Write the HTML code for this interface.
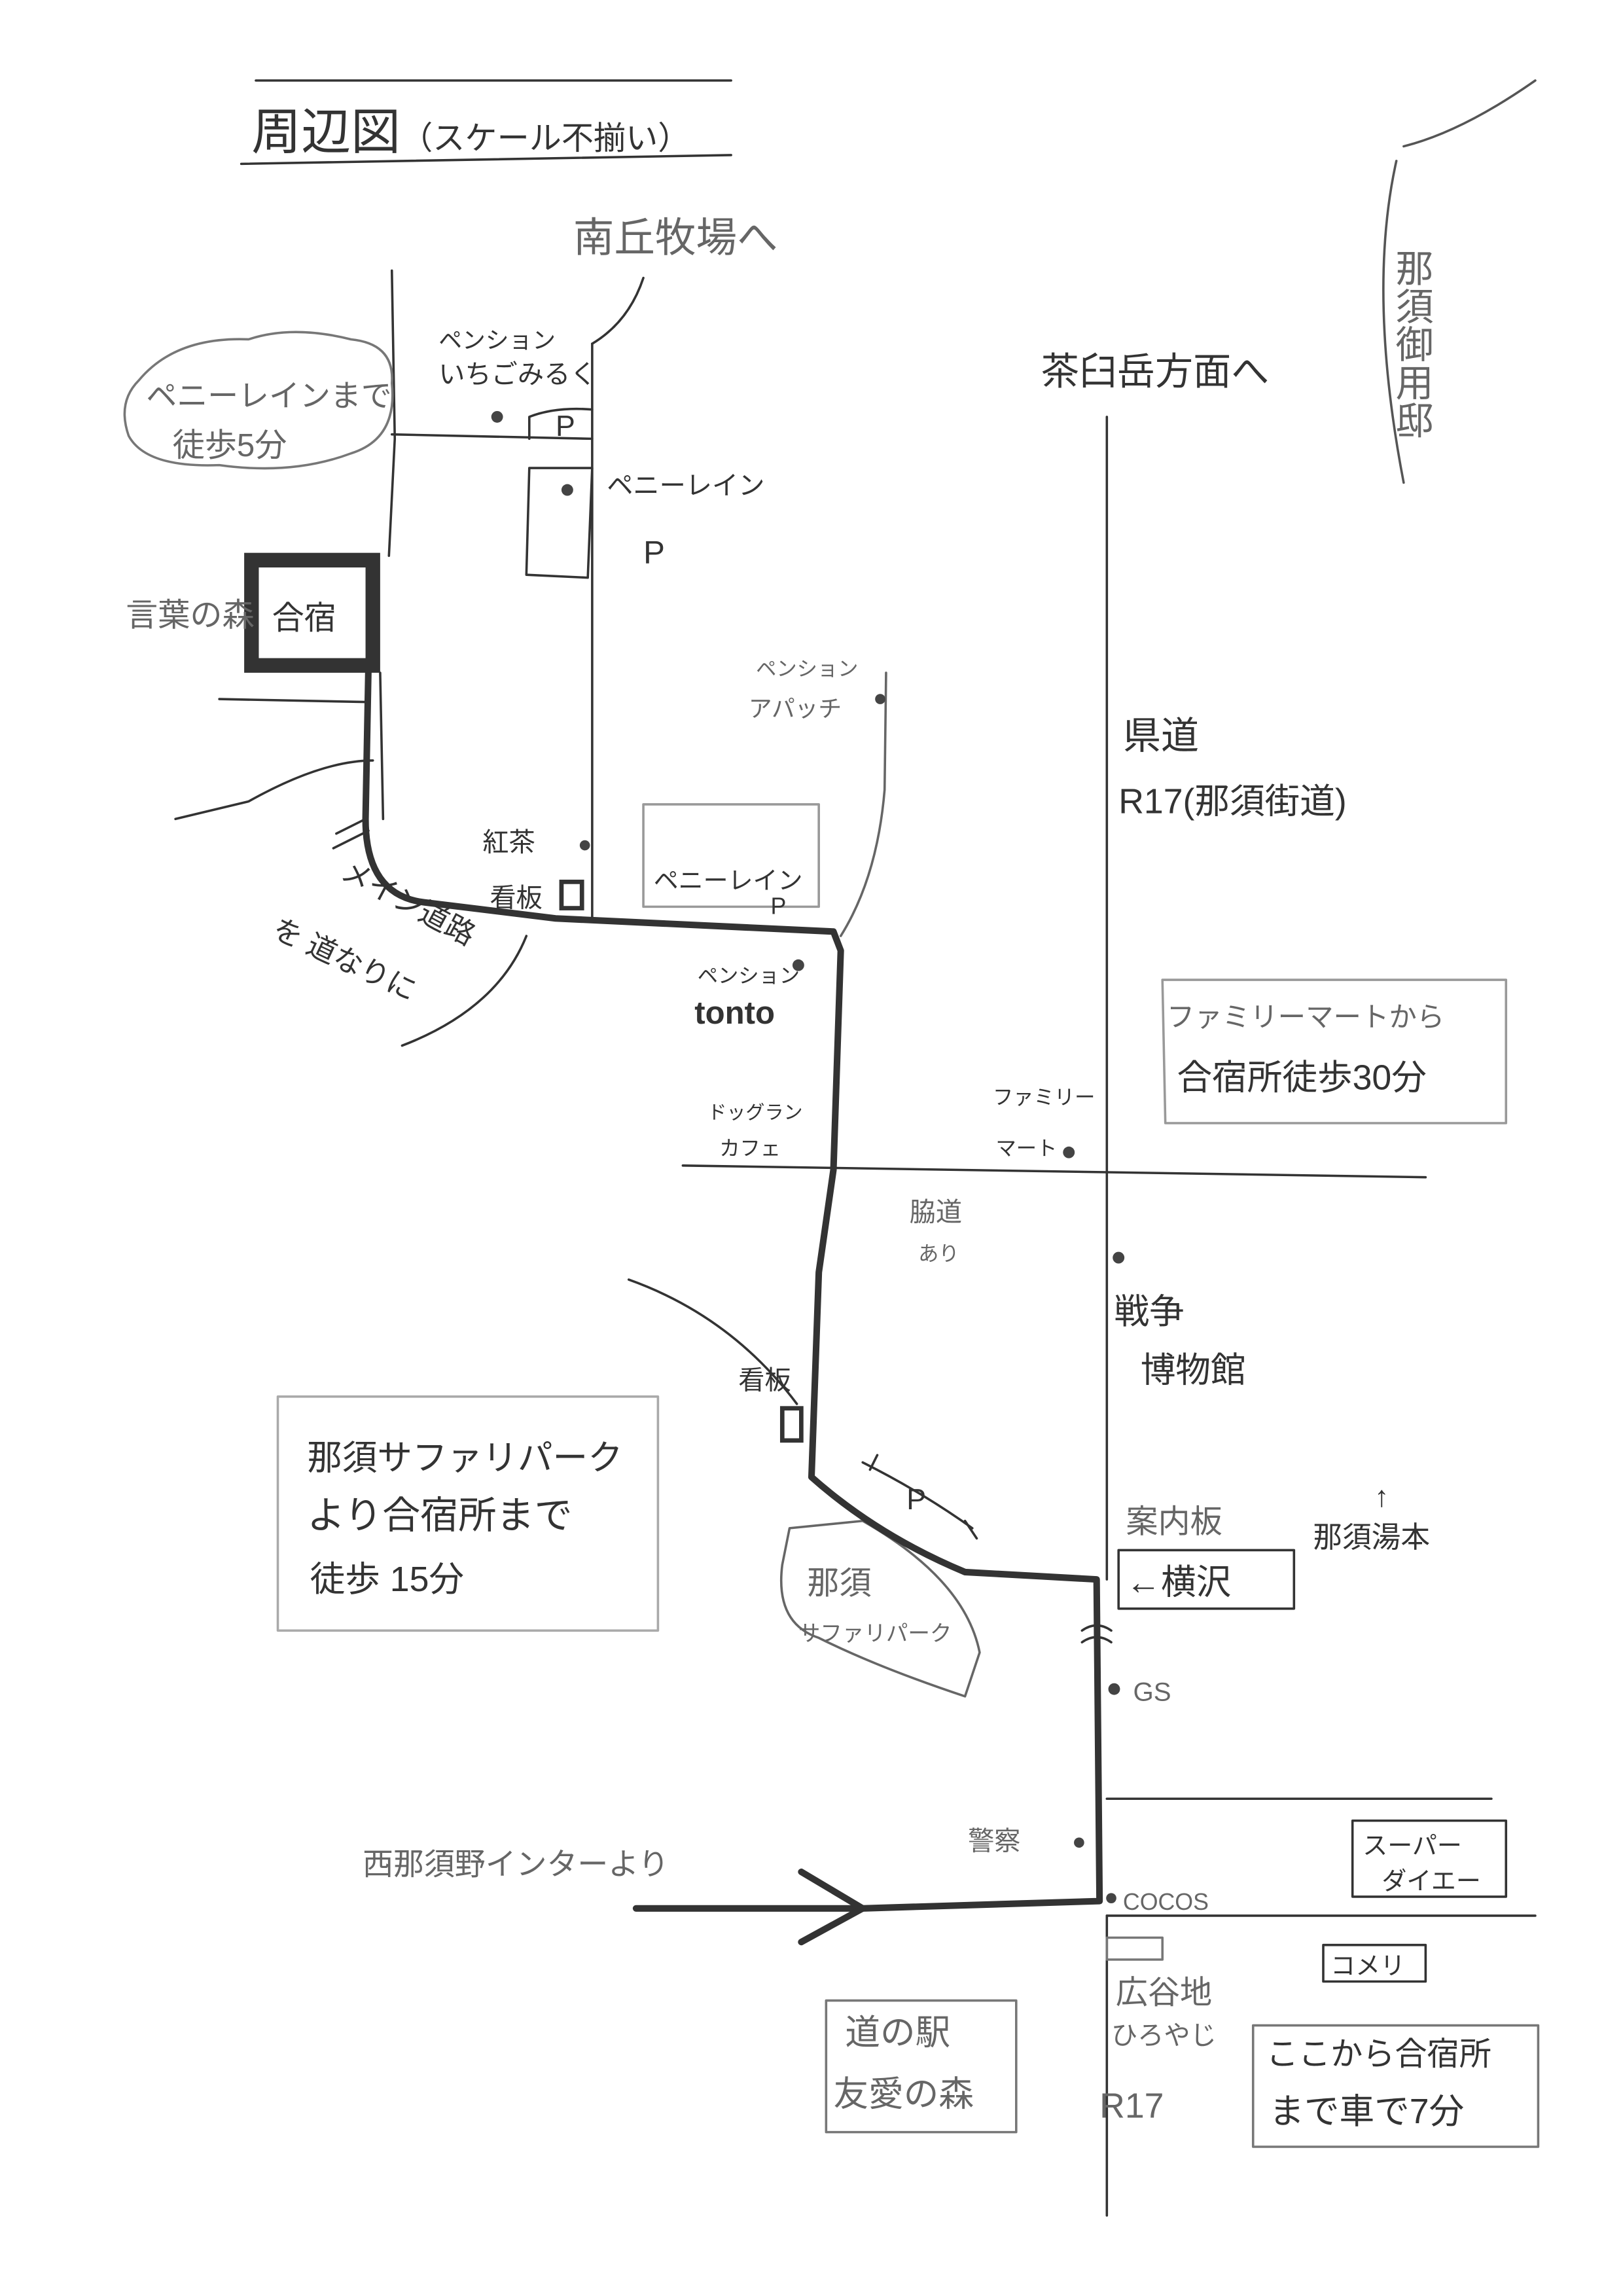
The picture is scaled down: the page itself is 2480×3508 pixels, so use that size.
<!DOCTYPE html>
<html><head><meta charset="utf-8"><style>
html,body{margin:0;padding:0;background:#fff;}
svg{display:block;}
text{font-family:"Liberation Sans","Noto Sans CJK JP",sans-serif;fill:#333;}
.g{fill:#666;}
</style></head><body>
<svg width="2480" height="3508" viewBox="0 0 1110 1570" xmlns="http://www.w3.org/2000/svg">
<rect width="1110" height="1570" fill="#fff"/>
<g fill="none" stroke="#333" stroke-width="1.6" stroke-linecap="round" stroke-linejoin="round">
<path d="M175 55 L500 55"/>
<path d="M165 112 L500 106"/>
<path d="M268 185 L270 300 L266 380"/>
<path d="M260 460 L262 560"/>
<path d="M150 478 L250 480"/>
<path d="M120 560 L170 548 Q220 520 255 520"/>
<path d="M405 235 Q430 220 440 190"/>
<path d="M405 235 L405 628"/>
<path d="M268 297 L405 300"/>
<path d="M362 300 L362 285 Q380 278 405 280"/>
<path d="M362 320 L405 320 L402 395 L360 393 Z"/>
<path d="M360 640 Q340 690 275 715"/>
<path d="M230 570 L250 560 M228 580 L252 568"/>
<path d="M95 260 Q120 230 170 232 Q200 222 240 232 Q270 235 268 262 Q272 300 240 310 Q200 325 150 318 Q100 320 88 298 Q80 275 95 260 Z" stroke="#777"/>
<path d="M440 550 L560 550 L560 620 L440 620 Z" stroke="#999"/>
<path d="M575 640 Q600 600 605 540 L606 460" stroke="#666"/>
<path d="M757 285 L757 1080" />
<path d="M757 1310 L757 1515"/>
<path d="M467 797 L975 805"/>
<path d="M757 1230 L1020 1230"/>
<path d="M757 1310 L1050 1310"/>
<path d="M430 875 Q500 900 545 960"/>
<path d="M590 1000 Q630 1020 665 1045"/>
<path d="M595 1005 L600 995 M660 1040 L668 1052"/>
<path d="M540 1045 L590 1040 Q660 1080 670 1130 L660 1160 Q600 1140 560 1120 Q530 1110 535 1070 Z" stroke="#666"/>
<path d="M960 100 Q1000 90 1050 55" stroke="#555"/>
<path d="M955 110 Q935 200 960 330" stroke="#555"/>
<path d="M795 670 L1030 670 L1030 768 L797 768 Z" stroke="#999"/>
<path d="M190 955 L450 955 L450 1115 L190 1115 Z" stroke="#aaa"/>
<path d="M765 1060 L885 1060 L885 1100 L765 1100 Z"/>
<path d="M925 1245 L1030 1245 L1030 1297 L925 1297 Z"/>
<path d="M905 1330 L975 1330 L975 1355 L905 1355 Z"/>
<path d="M857 1385 L1052 1385 L1052 1468 L857 1468 Z" stroke="#777"/>
<path d="M565 1368 L695 1368 L695 1458 L565 1458 Z" stroke="#777"/>
<path d="M757 1325 L795 1325 L795 1340 L757 1340 Z" stroke="#777"/>
<path d="M740 1115 Q750 1108 760 1115 M740 1123 Q750 1116 760 1123"/>
</g>
<g fill="none" stroke="#333" stroke-width="4.5" stroke-linecap="round" stroke-linejoin="round">
<path d="M252 455 L250 560 Q250 612 290 617 L380 628 L570 637 L575 650 L570 800 L560 870 L555 1010 Q600 1050 660 1075 L750 1080 L752 1300 L590 1305"/>
<path d="M435 1305 L590 1305"/>
<path d="M548 1280 L590 1305 L548 1328"/>
</g>
<rect x="172" y="383" width="83" height="72" fill="none" stroke="#333" stroke-width="10"/>
<g fill="#444">
<circle cx="340" cy="285" r="4"/><circle cx="388" cy="335" r="4"/>
<circle cx="400" cy="578" r="3.5"/><circle cx="602" cy="478" r="3.5"/>
<circle cx="546" cy="660" r="4"/><circle cx="731" cy="788" r="4"/>
<circle cx="765" cy="860" r="4"/><circle cx="762" cy="1155" r="4"/>
<circle cx="738" cy="1260" r="3.5"/><circle cx="760" cy="1298" r="3.5"/>
</g>
<rect x="384" y="603" width="14" height="18" fill="none" stroke="#333" stroke-width="3"/>
<rect x="535" y="963" width="13" height="22" fill="none" stroke="#333" stroke-width="3"/>
<text x="172" y="102" font-size="34">周辺図<tspan font-size="22">（スケール不揃い）</tspan></text>
<text x="392" y="172" font-size="28" class="g">南丘牧場へ</text>
<text x="300" y="238" font-size="16">ペンション</text>
<text x="300" y="262" font-size="18">いちごみるく</text>
<text x="380" y="298" font-size="20">P</text>
<text x="100" y="278" font-size="21" class="g">ペニーレインまで</text>
<text x="118" y="312" font-size="22" class="g">徒歩5分</text>
<text x="415" y="338" font-size="18">ペニーレイン</text>
<text x="440" y="385" font-size="22">P</text>
<text x="86" y="428" font-size="22" class="g">言葉の森</text>
<text x="186" y="430" font-size="22">合宿</text>
<text x="517" y="462" font-size="14" class="g">ペンション</text>
<text x="512" y="490" font-size="16" class="g">アパッチ</text>
<text x="768" y="512" font-size="26">県道</text>
<text x="765" y="556" font-size="24">R17(那須街道)</text>
<text x="712" y="263" font-size="26">茶臼岳方面へ</text>
<text x="965" y="170" font-size="26" class="g" writing-mode="tb">那須御用邸</text>
<text x="330" y="582" font-size="18">紅茶</text>
<text x="335" y="620" font-size="18">看板</text>
<text x="447" y="608" font-size="17">ペニーレイン</text>
<text x="527" y="625" font-size="16">P</text>
<text x="232" y="600" font-size="20" transform="rotate(28 232 600)">メイン道路</text>
<text x="185" y="640" font-size="20" transform="rotate(25 185 640)">を 道なりに</text>
<text x="477" y="672" font-size="14">ペンション</text>
<text x="475" y="700" font-size="22" font-weight="bold">tonto</text>
<text x="798" y="702" font-size="19" class="g">ファミリーマートから</text>
<text x="805" y="745" font-size="24">合宿所徒歩30分</text>
<text x="484" y="765" font-size="13">ドッグラン</text>
<text x="492" y="790" font-size="14">カフェ</text>
<text x="679" y="755" font-size="14">ファミリー</text>
<text x="681" y="790" font-size="14">マート</text>
<text x="622" y="835" font-size="18" class="g">脇道</text>
<text x="628" y="862" font-size="14" class="g">あり</text>
<text x="762" y="905" font-size="24">戦争</text>
<text x="780" y="945" font-size="24">博物館</text>
<text x="505" y="950" font-size="18">看板</text>
<text x="210" y="1005" font-size="24">那須サファリパーク</text>
<text x="210" y="1045" font-size="26">より合宿所まで</text>
<text x="212" y="1088" font-size="24">徒歩 15分</text>
<text x="620" y="1032" font-size="20">P</text>
<text x="770" y="1048" font-size="22" class="g">案内板</text>
<text x="898" y="1058" font-size="20">那須湯本</text>
<text x="940" y="1030" font-size="20">↑</text>
<text x="770" y="1090" font-size="24">←横沢</text>
<text x="552" y="1090" font-size="22" class="g">那須</text>
<text x="546" y="1122" font-size="15" class="g">サファリパーク</text>
<text x="775" y="1163" font-size="18" class="g">GS</text>
<text x="248" y="1282" font-size="21" class="g">西那須野インターより</text>
<text x="662" y="1265" font-size="18" class="g">警察</text>
<text x="768" y="1306" font-size="16" class="g">COCOS</text>
<text x="932" y="1268" font-size="17">スーパー</text>
<text x="945" y="1292" font-size="17">ダイエー</text>
<text x="910" y="1350" font-size="17">コメリ</text>
<text x="763" y="1370" font-size="22" class="g">広谷地</text>
<text x="760" y="1398" font-size="18" class="g">ひろやじ</text>
<text x="752" y="1448" font-size="24" class="g">R17</text>
<text x="866" y="1412" font-size="22">ここから合宿所</text>
<text x="868" y="1452" font-size="24">まで車で7分</text>
<text x="578" y="1398" font-size="24" class="g">道の駅</text>
<text x="570" y="1440" font-size="24" class="g">友愛の森</text>
</svg>
</body></html>
